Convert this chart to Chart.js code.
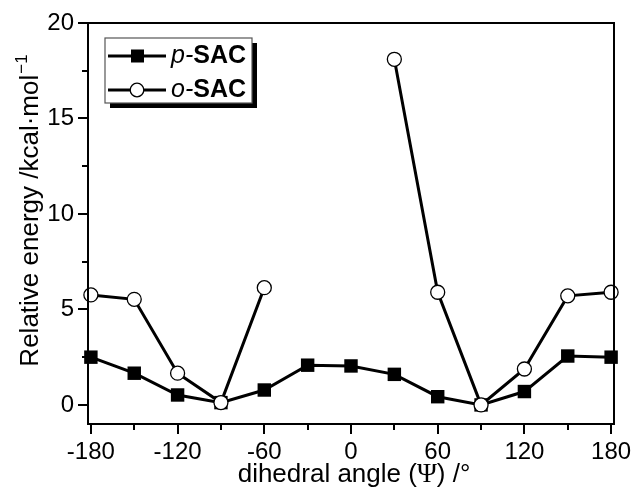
<!DOCTYPE html>
<html>
<head>
<meta charset="utf-8">
<script src="https://cdn.jsdelivr.net/npm/chart.js@4"></script>
<style>
  html, body { margin: 0; padding: 0; background: #fff; }
  #wrap { width: 633px; height: 492px; }
</style>
</head>
<body>
<div id="wrap"><canvas id="chart-1"></canvas></div>
<script>
// dihedral angle positions (deg)
const angles = [-180, -150, -120, -90, -60, -30, 0, 30, 60, 90, 120, 150, 180]
// relative energies (kcal/mol)
const pSAC = [2.5, 1.66, 0.52, 0.12, 0.78, 2.08, 2.04, 1.6, 0.43, 0.0, 0.7, 2.56, 2.5]
const oSAC = [5.76, 5.53, 1.66, 0.12, 6.14, null, null, 18.1, 5.9, 0.0, 1.88, 5.71, 5.9]

const xTicks = [-180, -120, -60, 0, 60, 120, 180]
const xMinor = [-150, -90, -30, 30, 90, 150]
const yTicks = [0, 5, 10, 15, 20]
const yMinor = [2.5, 7.5, 12.5, 17.5]

const toPoints = (vals) => angles.map((a, i) => ({ x: a, y: vals[i] }))

const SANS = '"Liberation Sans", Arial, sans-serif'
const SERIF = '"Liberation Serif", "Times New Roman", serif'

// ////////////////////////////// frame, ticks, titles, legend
const framePlugin = {
    id: 'frame',
    afterDraw(chart) {
        const ctx = chart.ctx
        const a = chart.chartArea
        const x = chart.scales.x
        const y = chart.scales.y
        ctx.save()
        ctx.strokeStyle = '#000'
        ctx.lineWidth = 2
        ctx.strokeRect(a.left, a.top, a.right - a.left, a.bottom - a.top)

        ctx.beginPath()
        xTicks.forEach(v => { const px = Math.round(x.getPixelForValue(v)); ctx.moveTo(px, a.bottom); ctx.lineTo(px, a.bottom + 10) })
        xMinor.forEach(v => { const px = Math.round(x.getPixelForValue(v)); ctx.moveTo(px, a.bottom); ctx.lineTo(px, a.bottom + 6) })
        yTicks.forEach(v => { const py = Math.round(y.getPixelForValue(v)); ctx.moveTo(a.left, py); ctx.lineTo(a.left - 10, py) })
        yMinor.forEach(v => { const py = Math.round(y.getPixelForValue(v)); ctx.moveTo(a.left, py); ctx.lineTo(a.left - 6, py) })
        ctx.stroke()

        // x title
        ctx.fillStyle = '#000'
        ctx.textBaseline = 'alphabetic'
        ctx.textAlign = 'left'
        const parts = [['dihedral angle (', '26px ' + SANS], ['\u03A8', '27px ' + SERIF], [') /\u00B0', '26px ' + SANS]]
        let total = 0
        parts.forEach(p => { ctx.font = p[1]; total += ctx.measureText(p[0]).width })
        let cx = (a.left + a.right) / 2 + 3 - total / 2
        parts.forEach(p => { ctx.font = p[1]; ctx.fillText(p[0], cx, 482); cx += ctx.measureText(p[0]).width })

        // y title
        ctx.save()
        ctx.translate(38, 211)
        ctx.rotate(-Math.PI / 2)
        const main = 'Relative energy /kcal\u00B7mol'
        ctx.font = '26px ' + SANS
        const w1 = ctx.measureText(main).width
        ctx.font = '17px ' + SANS
        const w2 = ctx.measureText('\u22121').width
        let sx = -(w1 + w2) / 2
        ctx.font = '26px ' + SANS
        ctx.fillText(main, sx, 0)
        ctx.font = '17px ' + SANS
        ctx.fillText('\u22121', sx + w1 + 1, -11)
        ctx.restore()

        // legend
        ctx.fillStyle = '#000'
        ctx.fillRect(110, 43, 147, 65)
        ctx.fillStyle = '#fff'
        ctx.fillRect(105, 38, 147, 65)
        ctx.lineWidth = 1.2
        ctx.strokeStyle = '#555'
        ctx.strokeRect(105, 38, 147, 65)
        const rows = [[56, 'p', true], [90, 'o', false]]
        rows.forEach(r => {
            const ry = r[0]
            ctx.strokeStyle = '#000'
            ctx.lineWidth = 3
            ctx.beginPath(); ctx.moveTo(108, ry); ctx.lineTo(166, ry); ctx.stroke()
            if (r[2]) {
                ctx.fillStyle = '#000'
                ctx.fillRect(131, ry - 6.5, 13, 13)
            } else {
                ctx.fillStyle = '#fff'
                ctx.lineWidth = 1.3
                ctx.beginPath(); ctx.arc(137, ry, 6.8, 0, Math.PI * 2); ctx.fill(); ctx.stroke()
            }
            ctx.fillStyle = '#000'
            ctx.textBaseline = 'middle'
            ctx.font = 'italic 25px ' + SANS
            ctx.fillText(r[1] + '-', 171, ry)
            const wp = ctx.measureText(r[1] + '-').width
            ctx.font = 'bold 25px ' + SANS
            ctx.fillText('SAC', 171 + wp, ry)
        })
        ctx.restore()
    }
}

const ctx1 = document.getElementById('chart-1')

new Chart(ctx1, {
    type: 'line',
    data: {
        datasets: [
            {
                label: 'p-SAC',
                data: toPoints(pSAC),
                borderColor: '#000',
                borderWidth: 3,
                pointStyle: 'rect',
                pointRadius: 9.5,
                pointBackgroundColor: '#000',
                pointBorderWidth: 0,
                order: 2
            },
            {
                label: 'o-SAC',
                data: toPoints(oSAC),
                borderColor: '#000',
                borderWidth: 3,
                pointStyle: 'circle',
                pointRadius: 7,
                pointBackgroundColor: '#fff',
                pointBorderColor: '#000',
                pointBorderWidth: 1.3,
                spanGaps: false,
                order: 1
            }
        ]
    },
    options: {
        animation: false,
        responsive: true,
        maintainAspectRatio: false,
        clip: false,
        layout: { padding: { top: 23, right: 19, left: 0, bottom: 0 } },
        plugins: {
            legend: { display: false },
            tooltip: { enabled: false }
        },
        scales: {
            x: {
                type: 'linear',
                min: -182,
                max: 182,
                grid: { display: false },
                border: { display: false },
                afterBuildTicks: s => { s.ticks = xTicks.map(v => ({ value: v })) },
                afterFit: s => { s.height = 68; s.paddingLeft = 0; s.paddingRight = 0 },
                ticks: {
                    padding: 6,
                    color: '#000',
                    maxRotation: 0,
                    font: { family: SANS, size: 24 }
                }
            },
            y: {
                min: -1,
                max: 20,
                grid: { display: false },
                border: { display: false },
                afterBuildTicks: s => { s.ticks = yTicks.map(v => ({ value: v })) },
                afterFit: s => { s.width = 88; s.paddingTop = 0; s.paddingBottom = 0 },
                ticks: {
                    padding: 6,
                    color: '#000',
                    font: { family: SANS, size: 24 }
                }
            }
        }
    },
    plugins: [framePlugin]
});
</script>
</body>
</html>
